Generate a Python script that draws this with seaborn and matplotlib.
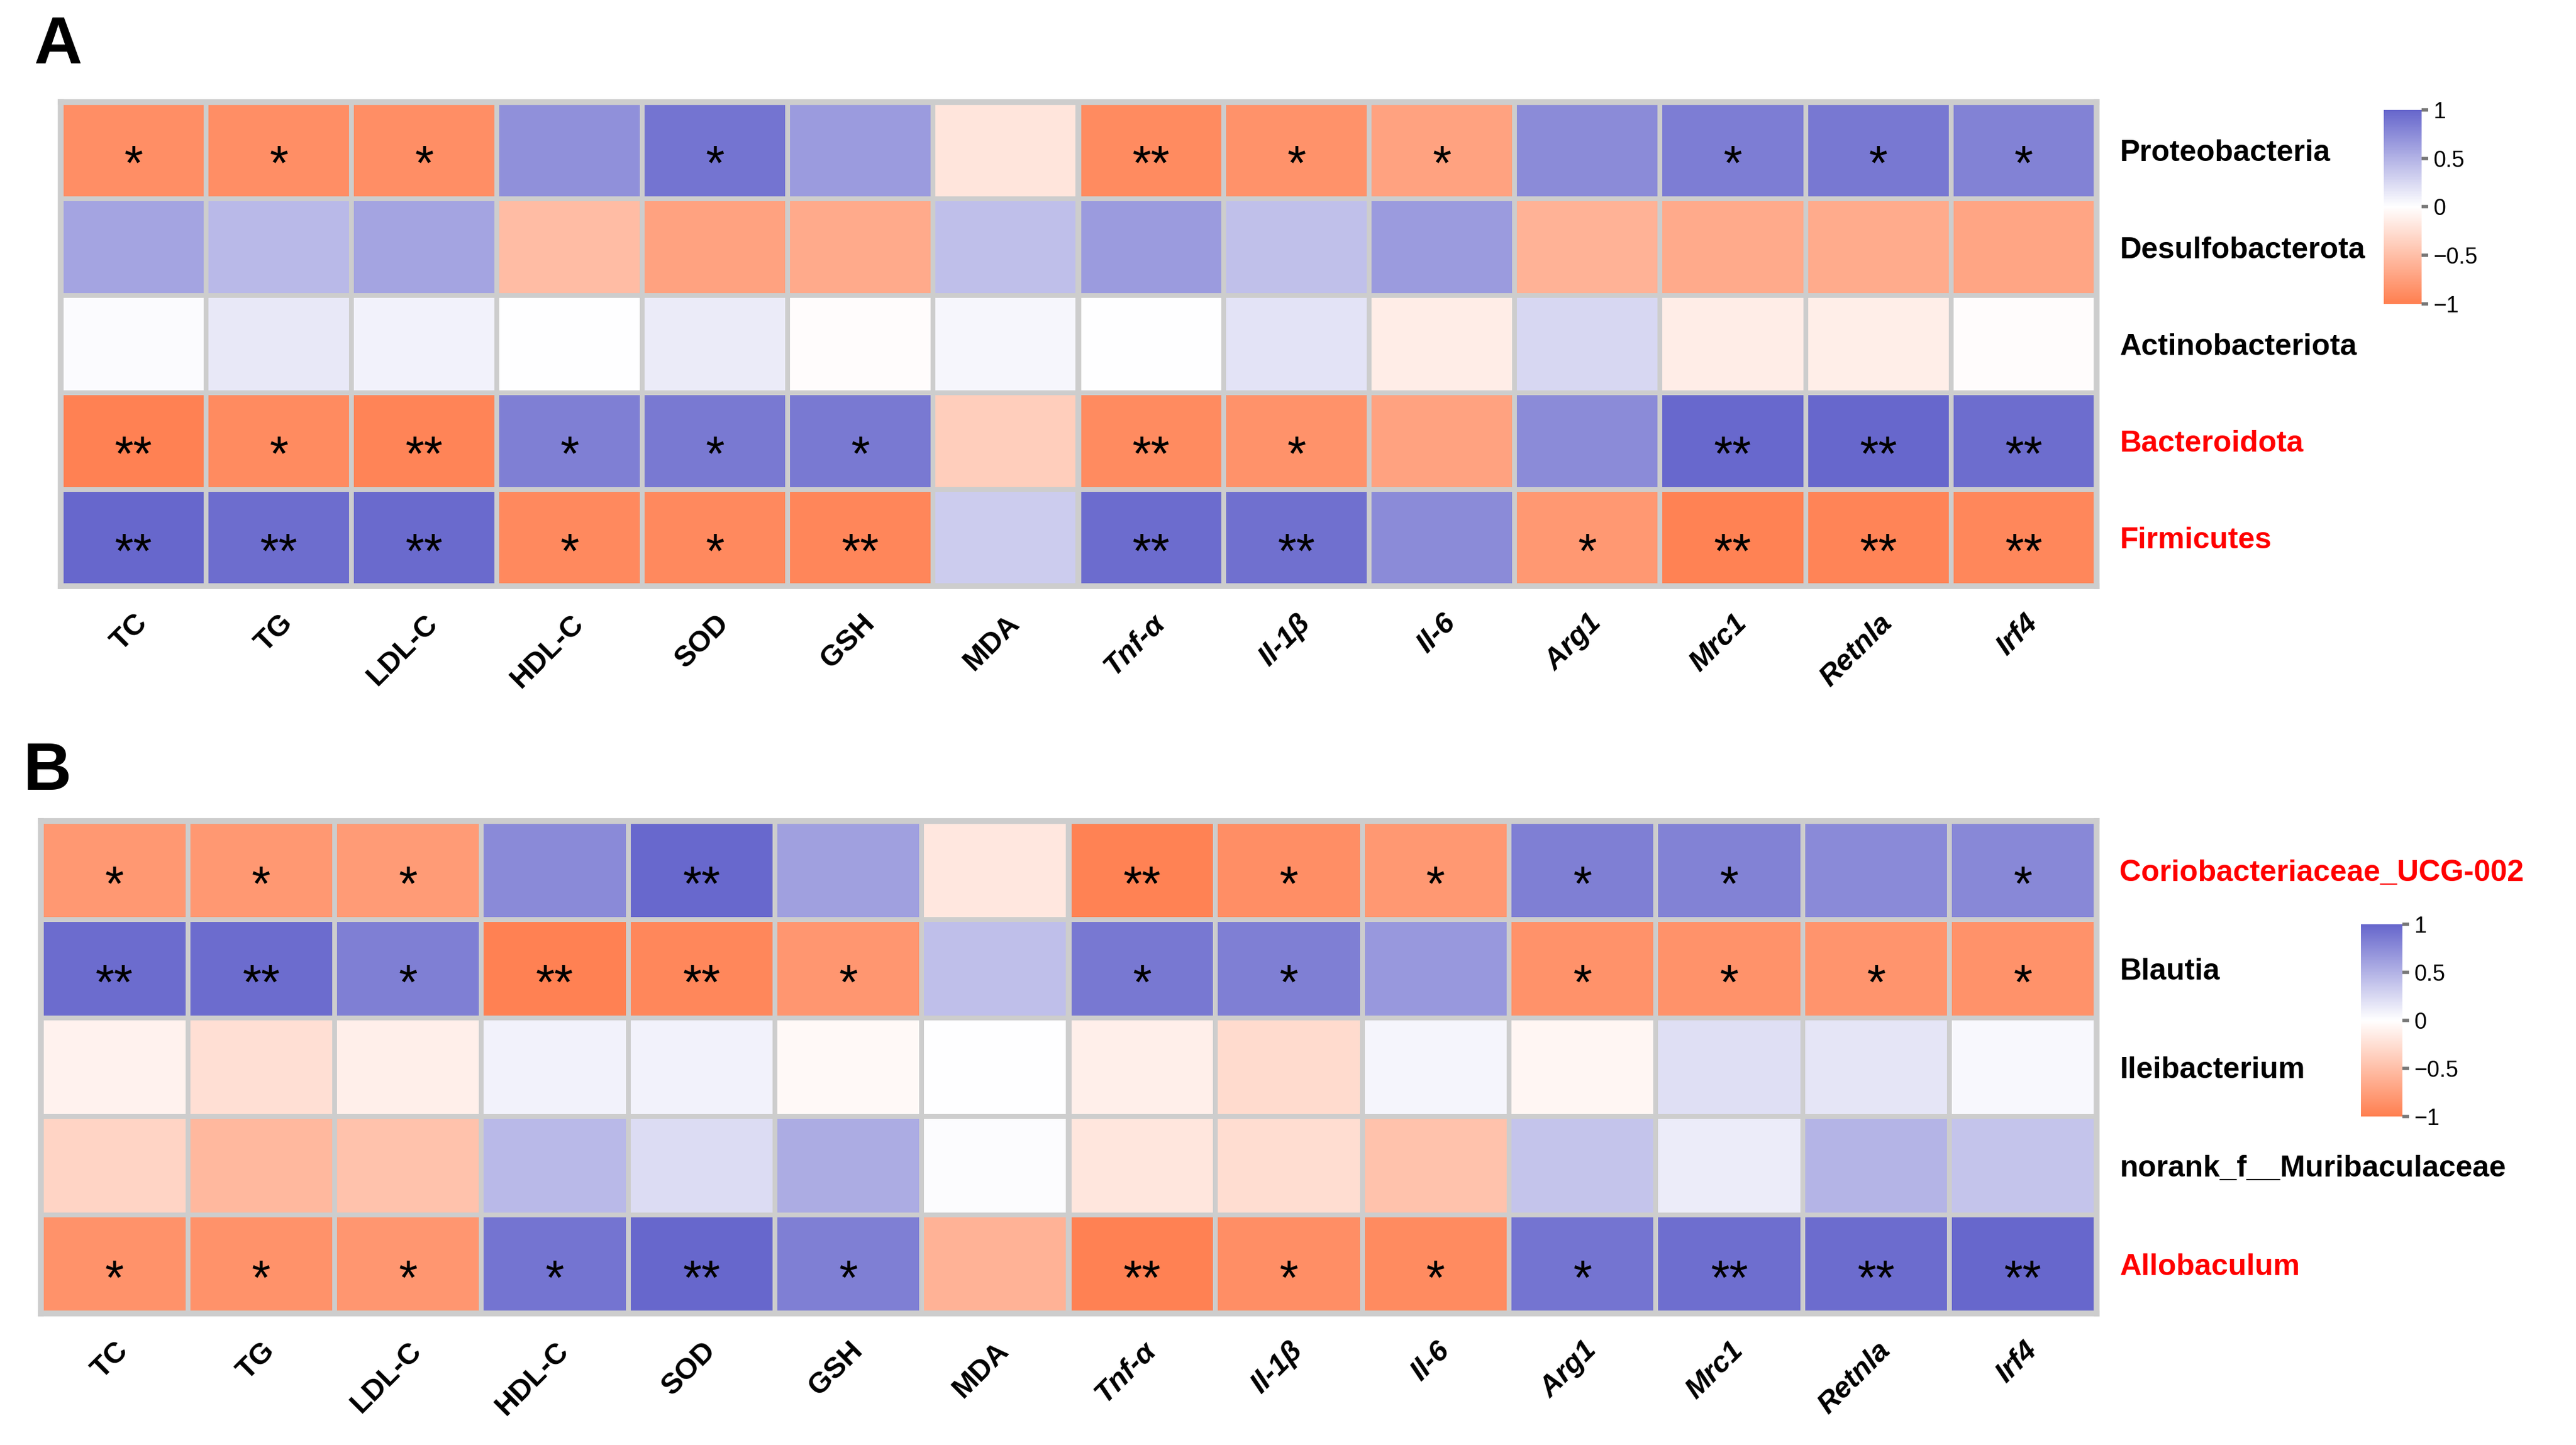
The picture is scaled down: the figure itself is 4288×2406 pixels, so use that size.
import numpy as np
import pandas as pd
import matplotlib
matplotlib.use("Agg")
import matplotlib.pyplot as plt
import matplotlib.transforms as mtransforms
import seaborn as sns
from matplotlib.colors import LinearSegmentedColormap
from matplotlib.ticker import FuncFormatter

# indicators (columns)
indicators = ["TC", "TG", "LDL-C", "HDL-C", "SOD", "GSH", "MDA",
              "Tnf-α", "Il-1β", "Il-6", "Arg1", "Mrc1", "Retnla", "Irf4"]
gene_cols = ["Tnf-α", "Il-1β", "Il-6", "Arg1", "Mrc1", "Retnla", "Irf4"]

# panel A: phylum level
phyla = ["Proteobacteria", "Desulfobacterota", "Actinobacteriota",
         "Bacteroidota", "Firmicutes"]
phyla_red = ["Bacteroidota", "Firmicutes"]
r_phyla = [
    [-0.88, -0.88, -0.88, 0.72, 0.90, 0.65, -0.20, -0.90, -0.85, -0.72, 0.75, 0.85, 0.88, 0.82],
    [0.59, 0.46, 0.59, -0.52, -0.72, -0.66, 0.42, 0.65, 0.41, 0.65, -0.60, -0.66, -0.65, -0.70],
    [0.03, 0.15, 0.08, 0.00, 0.13, -0.02, 0.06, 0.00, 0.18, -0.14, 0.26, -0.14, -0.13, -0.02],
    [-0.98, -0.90, -0.96, 0.83, 0.87, 0.87, -0.38, -0.90, -0.85, -0.72, 0.75, 0.98, 0.99, 0.95],
    [0.99, 0.95, 0.97, -0.92, -0.92, -0.94, 0.33, 0.96, 0.93, 0.75, -0.80, -0.97, -0.96, -0.93],
]
sig_phyla = [
    ["*", "*", "*", "", "*", "", "", "**", "*", "*", "", "*", "*", "*"],
    ["", "", "", "", "", "", "", "", "", "", "", "", "", ""],
    ["", "", "", "", "", "", "", "", "", "", "", "", "", ""],
    ["**", "*", "**", "*", "*", "*", "", "**", "*", "", "", "**", "**", "**"],
    ["**", "**", "**", "*", "*", "**", "", "**", "**", "", "*", "**", "**", "**"],
]

# panel B: genus level
genera = ["Coriobacteriaceae_UCG-002", "Blautia", "Ileibacterium",
          "norank_f__Muribaculaceae", "Allobaculum"]
genera_red = ["Coriobacteriaceae_UCG-002", "Allobaculum"]
r_genera = [
    [-0.80, -0.80, -0.78, 0.76, 0.98, 0.62, -0.18, -0.97, -0.88, -0.80, 0.83, 0.82, 0.76, 0.78],
    [0.96, 0.96, 0.83, -0.98, -0.93, -0.82, 0.42, 0.88, 0.83, 0.67, -0.85, -0.85, -0.83, -0.85],
    [-0.10, -0.25, -0.12, 0.08, 0.08, -0.04, 0.00, -0.12, -0.28, 0.07, -0.07, 0.21, 0.17, 0.04],
    [-0.33, -0.55, -0.47, 0.46, 0.23, 0.54, 0.02, -0.19, -0.26, -0.47, 0.39, 0.12, 0.49, 0.39],
    [-0.85, -0.85, -0.82, 0.90, 0.99, 0.83, -0.60, -0.98, -0.88, -0.90, 0.90, 0.94, 0.96, 0.99],
]
sig_genera = [
    ["*", "*", "*", "", "**", "", "", "**", "*", "*", "*", "*", "", "*"],
    ["**", "**", "*", "**", "**", "*", "", "*", "*", "", "*", "*", "*", "*"],
    ["", "", "", "", "", "", "", "", "", "", "", "", "", ""],
    ["", "", "", "", "", "", "", "", "", "", "", "", "", ""],
    ["*", "*", "*", "*", "**", "*", "", "**", "*", "*", "*", "**", "**", "**"],
]

sns.set_theme(style="white")
plt.rcParams["font.family"] = ["Liberation Sans", "DejaVu Sans"]
plt.rcParams["text.color"] = "black"
plt.rcParams["xtick.color"] = "black"
plt.rcParams["ytick.color"] = "black"

cmap = LinearSegmentedColormap.from_list("rb", ["#FF7F50", "#FFFFFF", "#6666CC"])
grid_c = "#CDCDCD"


def draw_panel(fig, ax, cax, values, sig, rows, red_rows, letter, letter_xy):
    df = pd.DataFrame(values, index=rows, columns=indicators)
    annot = np.array(sig)
    sns.heatmap(df, ax=ax, cbar_ax=cax, cmap=cmap, vmin=-1, vmax=1,
                annot=annot, fmt="", annot_kws={"fontsize": 29, "color": "black"},
                linewidths=2.2, linecolor=grid_c,
                cbar_kws={"ticks": [-1, -0.5, 0, 0.5, 1]})
    # asterisks sit high in their glyph box, push them to the cell centre
    for t in ax.texts:
        x, y = t.get_position()
        t.set_position((x, y + 0.17))
    ax.axvline(7, color=grid_c, lw=3.5)
    for s in ax.spines.values():
        s.set_visible(True)
        s.set_color(grid_c)
        s.set_linewidth(3.5)

    ax.yaxis.tick_right()
    ax.set_yticklabels(rows, rotation=0, ha="left", fontsize=18, fontweight="bold")
    lift = mtransforms.ScaledTranslation(0, 0.04, fig.dpi_scale_trans)
    for lab in ax.get_yticklabels():
        lab.set_transform(lab.get_transform() + lift)
        if lab.get_text() in red_rows:
            lab.set_color("red")
    ax.set_xticklabels(indicators, rotation=45, ha="right", rotation_mode="anchor",
                       fontsize=17.5, fontweight="bold")
    for lab in ax.get_xticklabels():
        if lab.get_text() in gene_cols:
            lab.set_fontstyle("italic")
    ax.tick_params(axis="both", length=0)
    ax.tick_params(axis="y", pad=14)
    ax.tick_params(axis="x", pad=14)
    ax.set_xlabel("")
    ax.set_ylabel("")

    cax.yaxis.set_major_formatter(FuncFormatter(lambda v, p: f"{v:g}".replace("-", "\u2212")))
    cax.tick_params(labelsize=13.5, length=4, width=2, color="#777777", pad=3)
    cax.yaxis.set_ticks_position("right")
    for s in cax.spines.values():
        s.set_visible(False)

    fig.text(letter_xy[0], letter_xy[1], letter, fontsize=40, fontweight="bold",
             ha="left", va="top")


fig = plt.figure(figsize=(21.44, 12.03), dpi=200)

ax_a = fig.add_axes([0.0236, 0.5943, 0.7902, 0.3352])
cax_a = fig.add_axes([0.9254, 0.7898, 0.0147, 0.1341])
draw_panel(fig, ax_a, cax_a, r_phyla, sig_phyla, phyla, phyla_red, "A", (0.013, 0.99))

ax_b = fig.add_axes([0.0159, 0.0909, 0.7979, 0.3409])
cax_b = fig.add_axes([0.9165, 0.2273, 0.0160, 0.1330])
draw_panel(fig, ax_b, cax_b, r_genera, sig_genera, genera, genera_red, "B", (0.009, 0.487))

fig.savefig("out.png", dpi=200)
plt.close(fig)
